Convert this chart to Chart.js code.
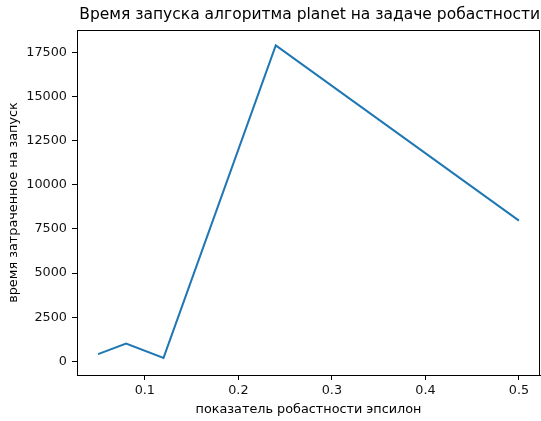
<!DOCTYPE html>
<html>
<head>
<meta charset="utf-8">
<script src="https://cdn.jsdelivr.net/npm/chart.js@4.4.1/dist/chart.umd.min.js"></script>
<style>
  html, body { margin: 0; padding: 0; background: #fff; }
  #wrap { width: 541px; height: 421px; }
</style>
</head>
<body>
<div id="wrap"><canvas id="runChart" width="541" height="421"></canvas></div>
<script>
// epsilon values and run times
const epsilons = [0.05, 0.08, 0.12, 0.24, 0.5];
const runTimes = [410, 1010, 200, 17890, 7970];
const xTicks = [0.1, 0.2, 0.3, 0.4, 0.5];
const yTicks = [0, 2500, 5000, 7500, 10000, 12500, 15000, 17500];

const points = epsilons.map((e, i) => ({ x: e, y: runTimes[i] }));

// draws the top and right spines like matplotlib
const frame = {
  id: 'frame',
  afterDraw(chart) {
    const a = chart.chartArea;
    const c = chart.ctx;
    c.save();
    c.strokeStyle = '#000';
    c.lineWidth = 1;
    c.strokeRect(Math.round(a.left) + 0.5, Math.round(a.top) + 0.5,
      Math.round(a.right - a.left) - 1, Math.round(a.bottom - a.top));
    c.restore();
  }
};

const tickFont = { family: 'DejaVu Sans', size: 12.8 };

const ctx = document.getElementById('runChart').getContext('2d');
new Chart(ctx, {
  type: 'line',
  data: {
    datasets: [{
      data: points,
      borderColor: '#1f77b4',
      borderWidth: 2,
      pointRadius: 0,
      tension: 0,
      fill: false
    }]
  },
  options: {
    responsive: false,
    animation: false,
    layout: { padding: { left: 0, right: 1, top: 0, bottom: 0 } },
    plugins: {
      legend: { display: false },
      tooltip: { enabled: false },
      title: {
        display: true,
        text: 'Время запуска алгоритма planet на задаче робастности',
        align: 'end',
        color: '#000',
        font: { family: 'DejaVu Sans', size: 15.5, weight: 'normal' },
        padding: { top: 5.7, bottom: 5.7 }
      }
    },
    scales: {
      x: {
        type: 'linear',
        min: 0.0275,
        max: 0.5225,
        afterFit: s => { s.height = 46; },
        afterBuildTicks: s => { s.ticks = xTicks.map(v => ({ value: v })); },
        grid: { display: true, drawOnChartArea: false, drawTicks: true, tickLength: 5, color: '#000' },
        border: { display: true, color: '#000' },
        ticks: {
          color: '#111',
          font: tickFont,
          padding: 3,
          maxRotation: 0,
          callback: v => String(Math.round(v * 10) / 10)
        },
        title: {
          display: true,
          text: 'показатель робастности эпсилон',
          color: '#000',
          font: tickFont,
          padding: { top: 0, bottom: 4 }
        }
      },
      y: {
        min: -770,
        max: 18760,
        afterFit: s => { s.width = 77; },
        afterBuildTicks: s => { s.ticks = yTicks.map(v => ({ value: v })); },
        grid: { display: true, drawOnChartArea: false, drawTicks: true, tickLength: 5, color: '#000' },
        border: { display: true, color: '#000' },
        ticks: {
          color: '#111',
          font: tickFont,
          padding: 5,
          callback: v => String(v)
        },
        title: {
          display: true,
          text: 'время затраченное на запуск',
          color: '#000',
          font: tickFont,
          padding: { top: 6, bottom: 0 }
        }
      }
    }
  },
  plugins: [frame]
});
</script>
</body>
</html>
